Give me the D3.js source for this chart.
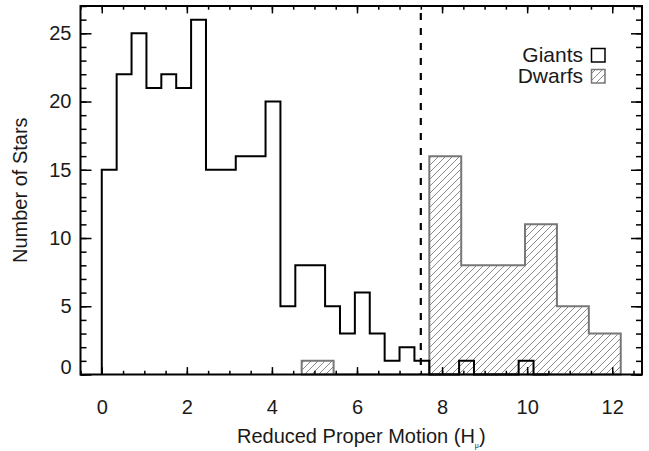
<!DOCTYPE html>
<html>
<head>
<meta charset="utf-8">
<script src="https://cdn.jsdelivr.net/npm/d3@7"></script>
<style>
    body { margin: 0; background: #fff; }
    svg text { font-family: "Liberation Sans", Arial, Helvetica, sans-serif; fill: #1a1a1a; }
</style>
</head>
<body>
<svg id="chart" width="649" height="451"></svg>
<script>
// histogram data
const giantsBinStart = 0;
const giantsBinWidth = 0.35;
const giantsCounts = [15, 22, 25, 21, 22, 21, 26, 15, 15, 16, 16, 20, 5, 8, 8, 5, 3, 6, 3, 1, 2, 1, 0, 0, 1, 0, 0, 0, 1, 0];

const dwarfsBinStart = 4.7;
const dwarfsBinWidth = 0.75;
const dwarfsCounts = [1, 0, 0, 0, 16, 8, 8, 11, 5, 3];

const cutValue = 7.5;
const xTicks = [0, 2, 4, 6, 8, 10, 12];
const yTicks = [0, 5, 10, 15, 20, 25];
const legendLabels = ['Giants', 'Dwarfs'];

const margin = { left: 80.5, right: 7, top: 6, bottom: 76.5 };
const width = 649, height = 451;

const svg = d3.select('#chart');

const x = d3.scaleLinear().domain([-0.5, 12.7]).range([margin.left, width - margin.right]);
const y = d3.scaleLinear().domain([0, 27]).range([height - margin.bottom, margin.top]);

const defs = svg.append('defs');
defs.append('pattern')
    .attr('id', 'hatch')
    .attr('patternUnits', 'userSpaceOnUse')
    .attr('width', 7)
    .attr('height', 7)
    .append('path')
    .attr('d', 'M-1,1 l2,-2 M0,7 l7,-7 M6,8 l2,-2')
    .attr('stroke', '#8a8a8a')
    .attr('stroke-width', 1);

// step outline of a histogram: up at each bin edge, flat across the bin
function stepPoints(start, binWidth, counts) {
    const pts = [[start, 0]];
    counts.forEach((c, i) => {
        pts.push([start + i * binWidth, c]);
        pts.push([start + (i + 1) * binWidth, c]);
    });
    pts.push([start + counts.length * binWidth, 0]);
    return pts;
}

const line = d3.line().x(d => x(d[0])).y(d => y(d[1]));

// dwarfs, hatched
svg.append('path')
    .attr('d', line(stepPoints(dwarfsBinStart, dwarfsBinWidth, dwarfsCounts)) + 'Z')
    .attr('fill', 'url(#hatch)')
    .attr('stroke', '#777')
    .attr('stroke-width', 2);

// giants, outline only
svg.append('path')
    .attr('d', line(stepPoints(giantsBinStart, giantsBinWidth, giantsCounts)))
    .attr('fill', 'none')
    .attr('stroke', '#000')
    .attr('stroke-width', 2);

// dividing line
svg.append('line')
    .attr('x1', x(cutValue)).attr('x2', x(cutValue))
    .attr('y1', y.range()[1] + 7).attr('y2', y.range()[0])
    .attr('stroke', '#000')
    .attr('stroke-width', 2.2)
    .attr('stroke-dasharray', '7,8');

// axes, ticks inward on all four sides
const plotW = x.range()[1] - x.range()[0];
const plotH = y.range()[0] - y.range()[1];
const xMinor = d3.range(-0.5, 12.71, 0.5);
const yMinor = d3.range(0, 28, 1);

function styleAxis(g) {
    g.select('.domain').remove();
    g.selectAll('line').attr('stroke', '#000').attr('stroke-width', 1.5);
    g.selectAll('text').style('font-size', '20px');
}

svg.append('g').attr('transform', `translate(0,${y.range()[0]})`)
    .call(d3.axisBottom(x).tickValues(xMinor).tickSize(-3.7).tickFormat(''))
    .call(styleAxis);
svg.append('g').attr('transform', `translate(0,${y.range()[0]})`)
    .call(d3.axisBottom(x).tickValues(xTicks).tickSize(-7.4).tickPadding(25).tickFormat(d3.format('d')))
    .call(styleAxis);
svg.append('g').attr('transform', `translate(0,${y.range()[1]})`)
    .call(d3.axisTop(x).tickValues(xMinor).tickSize(-3.7).tickFormat(''))
    .call(styleAxis);
svg.append('g').attr('transform', `translate(0,${y.range()[1]})`)
    .call(d3.axisTop(x).tickValues(xTicks).tickSize(-7.4).tickFormat(''))
    .call(styleAxis);

svg.append('g').attr('transform', `translate(${x.range()[0]},0)`)
    .call(d3.axisLeft(y).tickValues(yMinor).tickSize(-6).tickFormat(''))
    .call(styleAxis);
const yAxisG = svg.append('g').attr('transform', `translate(${x.range()[0]},0)`)
    .call(d3.axisLeft(y).tickValues(yTicks).tickSize(-11).tickPadding(9).tickFormat(d3.format('d')))
    .call(styleAxis);
yAxisG.selectAll('.tick text').filter(d => d === 0).attr('dy', '-0.05em');
svg.append('g').attr('transform', `translate(${x.range()[1]},0)`)
    .call(d3.axisRight(y).tickValues(yMinor).tickSize(-6).tickFormat(''))
    .call(styleAxis);
svg.append('g').attr('transform', `translate(${x.range()[1]},0)`)
    .call(d3.axisRight(y).tickValues(yTicks).tickSize(-11).tickFormat(''))
    .call(styleAxis);

// frame
svg.append('rect')
    .attr('x', x.range()[0]).attr('y', y.range()[1])
    .attr('width', plotW).attr('height', plotH)
    .attr('fill', 'none')
    .attr('stroke', '#000')
    .attr('stroke-width', 2);

// axis titles
const xTitle = svg.append('text')
    .attr('x', (x.range()[0] + x.range()[1]) / 2)
    .attr('y', 443)
    .attr('text-anchor', 'middle')
    .style('font-size', '20px');
xTitle.append('tspan').text('Reduced Proper Motion (H');
xTitle.append('tspan').attr('dy', 5).style('font-size', '7px').text('\u03bc');
xTitle.append('tspan').attr('dy', -5).text(')');

svg.append('text')
    .attr('transform', `translate(27,${(y.range()[0] + y.range()[1]) / 2}) rotate(-90)`)
    .attr('text-anchor', 'middle')
    .style('font-size', '20px')
    .text('Number of Stars');

// legend
const legend = svg.append('g');
legendLabels.forEach((label, i) => {
    const ly = 62 + i * 21;
    legend.append('text')
        .attr('x', 583).attr('y', ly)
        .attr('text-anchor', 'end')
        .style('font-size', '21px')
        .text(label);
    legend.append('rect')
        .attr('x', 591.5).attr('y', ly - 13.5)
        .attr('width', 13.5).attr('height', 13.5)
        .attr('fill', i === 0 ? 'none' : 'url(#hatch)')
        .attr('stroke', i === 0 ? '#000' : '#777')
        .attr('stroke-width', 1.5);
});
</script>
</body>
</html>
